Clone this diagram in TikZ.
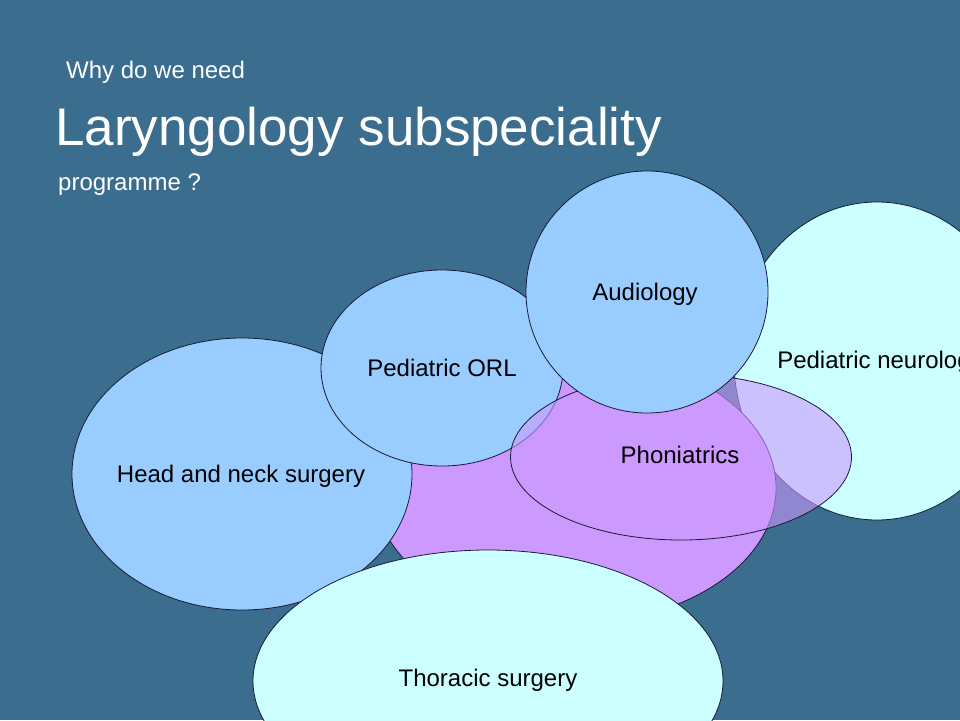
\documentclass[tikz,border=0pt]{standalone}
\usepackage{fontspec}
\setmainfont{Liberation Sans}
\usetikzlibrary{shapes.geometric}
\definecolor{bgblue}{HTML}{3A6D8E}
\definecolor{lblue}{HTML}{99CCFF}
\definecolor{lcyan}{HTML}{CCFFFF}
\definecolor{lpurple}{HTML}{CC99FF}
\definecolor{edgec}{HTML}{1A1A33}
\tikzset{
  ell/.style={ellipse, draw=edgec, line width=0.8pt, inner sep=0pt},
  lbl/.style={font=\fontsize{24}{28}\selectfont, text=black, inner sep=0pt},
  ttl/.style={text=white, inner sep=0pt, anchor=base west},
}
\begin{document}
\begin{tikzpicture}[x=1pt,y=-1pt]
\useasboundingbox (0,0) rectangle (960,720);
\clip (0,0) rectangle (960,720);
\fill[bgblue] (0,0) rectangle (960,720);
% titles
\node[ttl, font=\fontsize{24}{28}\selectfont] (t1) at (66,78) {Why do we need};
\node[ttl, font=\fontsize{53}{60}\selectfont] (t2) at (55,145) {Laryngology subspeciality};
\node[ttl, font=\fontsize{24}{28}\selectfont] (t3) at (58,190) {programme ?};
% shapes
\node[ell, fill=lcyan, minimum width=286, minimum height=318] (neuro) at (877,361) {};
\node[lbl] (neurot) at (880,362) {Pediatric neurology};
\node[ell, fill=lpurple, minimum width=402, minimum height=270] (core) at (575,488) {};
\node[ell, fill=lblue, minimum width=340, minimum height=272] (hn) at (242,474) {};
\node[lbl] (hnt) at (241,476) {Head and neck surgery};
\node[ell, fill=lblue, minimum width=242, minimum height=196] (orl) at (442,368) {};
\node[lbl] (orlt) at (orl.center) {Pediatric ORL};
\node[ell, fill=lpurple, fill opacity=0.6, minimum width=341, minimum height=166] (phon) at (681,457) {};
\node[lbl] (phont) at (680,455) {Phoniatrics};
\node[ell, fill=lblue, minimum width=242, minimum height=242] (aud) at (647,292) {};
\node[lbl] (audt) at (645,294) {Audiology};
\node[ell, fill=lcyan, minimum width=470, minimum height=262] (thor) at (488,681) {};
\node[lbl] (thort) at (488,680) {Thoracic surgery};
\end{tikzpicture}
\end{document}
